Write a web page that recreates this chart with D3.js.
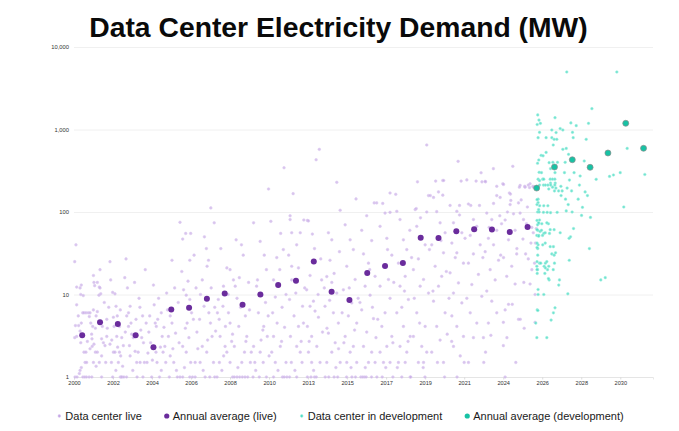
<!DOCTYPE html>
<html><head><meta charset="utf-8">
<script src="https://cdn.jsdelivr.net/npm/d3@7"></script>
<style>body{margin:0;background:#fff;} svg{display:block;font-family:"Liberation Sans",Arial,sans-serif;}</style>
</head><body><svg id="c" width="679" height="431"></svg>
<script>
const title = "Data Center Electricity Demand (MW)";
const yTickValues = [1, 10, 100, 1000, 10000];
const xDomain = [2000, 2032.5];
const xTickStepDays = 800;
const xTickCount = 15;
const legendLabels = ["Data center live", "Annual average (live)", "Data center in development", "Annual average (development)"];

const liveAvgYears = d3.range(2000, 2026);
const liveAvgValues = [3.2, 4.6, 4.4, 3.2, 2.3, 6.6, 6.9, 8.9, 10.3, 7.5, 10.0, 13.0, 14.7, 25.2, 10.8, 8.6, 18.2, 22.1, 24.1, 48.9, 48.4, 58.3, 61.7, 61.2, 57.3, 65.8];
const devAvgYears = d3.range(2026, 2033);
const devAvgValues = [195, 351, 430, 348, 519, 1189, 592];

const livePoints = [
[2000.11,40],[2000.04,25],[2000.41,13],[2000.34,12],[2000.15,12.3],[2000.38,10],[2000.52,9.7],[2000.15,7.5],[2000.49,6],[2000.56,6],[2000.67,6],[2000.24,5.5],[2000.41,4.5],[2000.08,4.2],[2000.26,4.2],[2000.34,3.6],[2000.04,3],[2000.15,3.1],[2000.38,2.6],[2000.56,2],[2000.67,2],[2000.62,1.5],[2000.41,1.3],[2000.34,1.2],[2000.06,1],[2000.17,1],[2000.5,1],[2000.6,1],[2000.7,1],[2000.85,1],[2000.8,6],[2000.86,5.4],[2000.9,6],[2000.94,4.5],[2000.71,1.5],[2000.9,2.2],[2000.3,1.1],[2000.75,2.7],
[2001.09,17],[2001.12,14],[2001.31,14],[2001.16,12.8],[2001.42,12.3],[2001.46,12],[2001.4,9.8],[2001.5,10.2],[2001.09,6.5],[2001.31,6.2],[2001.24,5.5],[2001.05,4.1],[2001.2,3.9],[2001.59,4.1],[2000.99,3.3],[2001.01,2.9],[2001.55,2.9],[2001.65,2.6],[2001.12,2.5],[2001.02,2.35],[2001.2,2],[2001.31,2],[2001.55,1.8],[2001.09,1.5],[2001.42,1.5],[2001.24,1.35],[2001.0,1],[2001.55,1],[2001.84,5],[2001.87,3.9],[2001.84,3.1],[2001.74,2.4],[2001.7,8],[2001.95,7],[2001.78,1.5],[2001.46,20],
[2002.02,25],[2002.06,15],[2002.17,10.6],[2002.3,10.2],[2002.36,7.2],[2002.21,5.3],[2002.43,5.5],[2002.25,4.1],[2002.55,4.1],[2002.4,3.1],[2002.68,3],[2002.12,2.8],[2002.02,2.5],[2002.21,2],[2002.3,2],[2002.55,2],[2002.62,1.8],[2002.49,1.5],[2002.73,1.35],[2002.92,27],[2002.96,5.5],[2002.85,16],[2002.17,1],[2002.6,1],[2002.65,1],[2002.7,1],[2002.8,1],[2002.95,1],[2002.77,2.4],[2002.1,1.5],[2002.45,2.3],[2002.88,3.5],[2002.6,6.5],[2002.35,1.2],
[2003.06,6],[2003.15,7.2],[2003.06,4.1],[2003.24,3.3],[2003.33,3],[2003.11,2.4],[2003.43,2.05],[2003.52,1.5],[2003.71,1.5],[2003.54,1],[2003.87,1],[2003.2,4.5],[2003.48,5],[2003.6,2],[2003.75,3.7],[2003.3,1.2],[2003.9,2.6],[2003.65,9],[2003.85,5.5],[2003.0,12],[2003.4,14],[2003.8,3],[2003.95,1.5],[2003.15,1.8],[2003.7,7],
[2004.0,20],[2004.46,13],[2004.5,7.5],[2004.56,4.5],[2004.7,5],[2004.62,4.1],[2004.3,2.6],[2004.15,1.95],[2004.4,1.6],[2004.66,1.5],[2004.1,1.5],[2004.36,1],[2004.8,1],[2004.85,2.3],[2004.95,3.1],[2004.2,3.5],[2004.9,1.2],[2004.75,9],[2004.25,5.5],[2004.6,2],[2004.05,4.5],[2004.9,6],
[2005.2,10.4],[2005.5,26],[2005.95,75],[2005.3,3.1],[2005.1,2.35],[2005.0,2],[2005.15,1.5],[2005.4,1.8],[2005.6,1.5],[2005.95,1],[2005.55,2.2],[2005.7,3.4],[2005.5,4.5],[2005.4,5.5],[2005.8,1],[2005.85,8],[2005.25,6.5],[2005.65,12],[2005.75,1.2],[2005.05,4],[2005.9,2.6],[2005.35,1],
[2006.1,47],[2006.27,55],[2006.55,55],[2006.74,30],[2006.5,26],[2006.05,19],[2006.4,14.5],[2006.15,11.4],[2006.3,9.8],[2006.5,8.7],[2006.6,6],[2006.7,5],[2006.25,3.9],[2006.45,3],[2006.1,2.35],[2006.3,2],[2006.55,1.5],[2006.8,1.5],[2006.1,1],[2006.5,1],[2006.65,1],[2006.8,1],[2006.9,3.5],[2006.85,12],[2006.2,1.3],[2006.95,2.2],[2006.35,4.5],
[2007.32,50],[2007.43,36],[2007.47,22],[2007.68,112],[2007.87,74],[2007.55,26],[2007.2,15],[2007.1,10],[2007.3,7.2],[2007.57,6],[2007.66,4.5],[2007.75,3.1],[2007.2,2.35],[2007.45,2],[2007.83,1.5],[2007.08,1.5],[2007.36,1],[2007.62,1],[2007.9,1],[2007.95,3.6],[2007.05,5],[2007.7,12],[2007.25,1.2],[2007.5,2.8],[2007.9,7],
[2008.24,36],[2008.58,21],[2008.76,20],[2008.39,12.6],[2008.1,8.7],[2008.05,6],[2008.36,7.2],[2008.67,6],[2008.76,4.5],[2008.2,3.1],[2008.48,2.35],[2008.58,2],[2008.16,1.5],[2008.76,1.5],[2008.03,1],[2008.9,1],[2008.95,15],[2008.3,1.2],[2008.85,2.7],[2008.5,4.1],[2008.65,10],[2008.4,1.8],[2008.15,5],[2008.9,3.3],
[2009.1,46],[2009.4,40],[2009.28,16],[2009.05,12.6],[2009.15,9],[2009.35,7],[2009.62,5.5],[2009.25,4.1],[2009.7,3.1],[2009.0,2.35],[2009.57,2],[2009.42,1.5],[2009.9,1.5],[2009.0,1],[2009.15,1],[2009.3,1],[2009.45,1],[2009.6,1],[2009.75,1],[2009.5,30],[2009.8,14],[2009.65,2.7],[2009.2,1.3],[2009.85,6.5],[2009.95,2],
[2010.92,190],[2010.08,74],[2010.45,44],[2010.68,30],[2010.8,20],[2010.25,12.6],[2010.55,9.8],[2010.35,6],[2010.65,4.1],[2010.85,3.1],[2010.08,2.35],[2010.45,2],[2010.15,1.5],[2010.62,1.5],[2010.05,1],[2010.4,1],[2010.8,1],[2010.3,15],[2010.5,2.8],[2010.9,5.5],[2010.2,1.2],[2010.75,8],[2010.95,1.8],[2010.6,3.7],
[2011.05,77],[2011.38,28],[2011.55,20],[2011.79,344],[2011.2,15],[2011.48,12.6],[2011.3,9.3],[2011.68,7],[2011.4,4.5],[2011.82,4],[2011.2,3.1],[2011.58,2.35],[2011.1,2],[2011.9,1.5],[2011.3,1.5],[2011.2,1],[2011.7,1],[2011.8,1],[2011.95,1],[2011.75,35],[2011.6,55],[2011.15,6],[2011.45,1.2],[2011.65,2.7],[2011.9,10],
[2012.3,167],[2012.13,90],[2012.13,81],[2012.22,56],[2012.5,40],[2012.7,56],[2012.22,22],[2012.6,21],[2012.22,15],[2012.45,10.4],[2012.1,8.7],[2012.83,7.2],[2012.35,5.5],[2012.6,4.1],[2012.15,3.1],[2012.5,2.35],[2012.7,2],[2012.2,1.5],[2012.8,1.5],[2012.1,1],[2012.5,1],[2012.9,80],[2012.95,12],[2012.4,1.2],[2012.75,2.7],[2012.05,30],[2012.88,4.5],
[2013.1,79],[2013.16,78],[2013.38,54],[2013.59,430],[2013.77,575],[2013.5,36],[2013.25,17],[2013.06,11.4],[2013.44,8.3],[2013.25,7.2],[2013.53,6.3],[2013.72,5.3],[2013.1,4.1],[2013.34,3.1],[2013.63,2.35],[2013.16,2],[2013.81,1.5],[2013.34,1.5],[2013.1,1],[2013.3,1],[2013.5,1],[2013.6,1],[2013.9,15],[2013.85,27],[2013.7,10],[2013.2,2.7],[2013.95,3.5],[2013.45,1.2],
[2014.75,229],[2014.94,105],[2014.28,56],[2014.47,46],[2014.37,26],[2014.19,16.5],[2014.47,14],[2014.75,10.4],[2014.09,7.2],[2014.56,6],[2014.84,4.5],[2014.28,3.4],[2014.66,2.6],[2014.47,2],[2014.19,1.5],[2014.94,1.5],[2014.1,1],[2014.3,1],[2014.6,1],[2014.8,1],[2014.6,18],[2014.9,33],[2014.2,3.9],[2014.7,1.3],[2014.35,8.5],[2014.05,12],[2014.85,2.2],
[2015.83,144],[2015.22,70],[2015.5,46],[2015.68,35],[2015.31,22],[2015.78,15.2],[2015.12,11.4],[2015.59,7.9],[2015.4,5.5],[2015.87,4.5],[2015.22,3.1],[2015.68,2.35],[2015.5,2],[2015.31,1.5],[2015.87,1.5],[2015.3,1],[2015.6,1],[2015.8,1],[2015.45,12],[2015.95,9],[2015.15,2.6],[2015.55,1.3],[2015.75,3.7],[2015.05,6],
[2016.85,129],[2016.99,129],[2016.43,90],[2016.15,60],[2016.71,45],[2016.25,31],[2016.53,24],[2016.9,16.6],[2016.34,12.6],[2016.62,9.8],[2016.15,6.5],[2016.81,5.1],[2016.43,3.5],[2016.25,2.35],[2016.71,2],[2016.53,1.5],[2016.9,1.5],[2016.1,1],[2016.2,1],[2016.3,1],[2016.4,1],[2016.7,1],[2016.6,20],[2016.05,8],[2016.95,3],[2016.35,1.3],[2016.75,7],
[2017.74,170],[2017.33,127],[2017.46,97],[2017.74,99],[2017.18,67],[2017.56,48],[2017.84,30],[2017.37,22],[2017.65,15.2],[2017.18,12.6],[2017.74,9],[2017.46,6],[2017.28,4.1],[2017.84,3.1],[2017.56,2.35],[2017.18,2],[2017.37,1.5],[2017.74,1.5],[2017.0,1],[2017.3,1],[2017.9,1],[2017.6,35],[2017.95,14],[2017.05,5],[2017.5,1.3],[2017.9,2.6],
[2018.06,164],[2018.12,102],[2018.3,81],[2018.49,46],[2018.68,35],[2018.21,24],[2018.59,16.6],[2018.3,12.6],[2018.77,8.7],[2018.12,6],[2018.49,4.1],[2018.87,3.1],[2018.3,2.35],[2018.68,2],[2018.21,1.5],[2018.59,1.5],[2018.4,1],[2018.87,1],[2018.9,1],[2018.85,60],[2018.95,28],[2018.4,7],[2018.15,1.3],[2018.75,2.7],[2018.55,11],
[2019.28,232],[2019.8,649],[2019.15,107],[2019.21,110],[2019.8,100],[2019.9,158],[2019.24,67],[2019.52,50],[2019.71,40],[2019.33,27],[2019.05,20],[2019.62,15.2],[2019.43,12.6],[2019.9,10.4],[2019.24,6],[2019.71,4.1],[2019.05,3.1],[2019.52,2.35],[2019.8,2],[2019.33,1.5],[2019.62,1.5],[2019.7,1],[2019.45,85],[2019.95,35],[2019.1,9],[2019.6,1.3],[2019.4,4.5],
[2020.3,237],[2020.7,241],[2020.75,241],[2020.0,158],[2020.46,175],[2020.7,160],[2020.18,150],[2020.36,101],[2020.55,74],[2020.83,56],[2020.08,40],[2020.74,32],[2020.27,22],[2020.64,16.6],[2020.46,12.6],[2020.18,8.3],[2020.83,6],[2020.36,4.1],[2020.55,2.8],[2020.08,2],[2020.74,1.5],[2020.8,1],[2020.9,19],[2020.6,45],[2020.15,11],[2020.95,3.3],[2020.4,1.5],
[2021.56,411],[2021.73,237],[2021.11,120],[2021.64,120],[2021.49,102],[2021.64,92],[2021.3,74],[2021.77,56],[2021.21,42],[2021.49,32],[2021.86,24],[2021.11,18.3],[2021.58,13.8],[2021.3,10.4],[2021.77,7.9],[2021.21,5.5],[2021.49,4.1],[2021.86,3.1],[2021.3,2.35],[2021.68,1.8],[2021.5,1],[2021.95,48],[2021.4,28],[2021.05,9],[2021.9,1.5],[2021.2,2.7],
[2022.05,245],[2022.57,237],[2022.85,299],[2022.9,232],[2022.14,125],[2022.27,120],[2022.76,120],[2022.42,81],[2022.61,67],[2022.24,52],[2022.8,40],[2022.42,31],[2022.14,24],[2022.7,17.5],[2022.33,13.2],[2022.89,9.5],[2022.24,6],[2022.61,4.5],[2022.42,3],[2022.14,1.5],[2022.98,3],[2022.55,60],[2022.95,28],[2022.05,9],
[2023.1,232],[2023.54,335],[2023.08,235],[2023.55,127],[2023.73,158],[2023.92,150],[2023.73,205],[2023.17,97],[2023.45,81],[2023.73,60],[2023.26,48],[2023.55,40],[2023.08,33],[2023.83,26],[2023.36,20],[2023.64,15],[2023.17,11],[2023.45,8.3],[2023.73,6],[2023.26,4.5],[2023.4,3.2],[2023.1,2],[2023.0,1.5],[2023.9,90],[2023.3,65],[2023.95,30],
[2024.07,220],[2024.63,358],[2024.11,216],[2024.44,170],[2024.52,138],[2024.48,123],[2024.95,129],[2024.33,100],[2024.67,95],[2024.5,165],[2024.2,80],[2024.76,60],[2024.39,46],[2024.86,36],[2024.11,28],[2024.57,22],[2024.29,16.6],[2024.76,13.4],[2024.39,7.6],[2024.6,7.6],[2024.2,6.5],[2024.95,5],[2024.1,4.6],[2024.3,3],[2024.1,2.4],[2024.2,1],[2024.8,1.5],[2024.0,72],[2024.45,55],[2024.85,31],
[2025.04,210],[2025.3,205],[2025.6,220],[2025.5,212],[2025.76,205],[2025.0,200],[2025.32,200],[2025.57,198],[2025.79,200],[2025.04,97],[2025.23,81],[2025.5,67],[2025.78,56],[2025.2,47],[2025.65,42],[2025.9,42],[2025.35,31],[2025.5,27],[2025.7,20],[2025.85,24],[2025.25,14],[2025.6,13.4],[2025.88,10],[2025.05,5],[2025.88,4.6],[2025.27,3.9],[2025.4,72],[2025.7,65],[2025.95,63],[2025.1,140],[2025.45,115]
];

const devPoints = [
[2026.03,1500],[2026.18,1188],[2026.13,924],[2026.05,795],[2026.5,795],[2026.82,795],[2026.95,760],[2027.1,760],[2026.82,986],[2027.0,1390],[2027.89,1200],[2028.19,1113],[2028.88,1188],[2027.29,1025],[2027.44,986],[2027.06,917],[2027.98,924],[2028.02,795],[2028.75,760],[2026.9,649],[2026.5,528],[2027.44,575],[2027.63,590],[2027.76,500],[2026.22,486],[2026.33,480],[2026.09,427],[2026.67,396],[2026.88,400],[2027.14,400],[2027.57,400],[2028.64,415],[2026.02,390],[2026.75,335],[2026.11,303],[2026.24,300],[2027.0,300],[2027.53,300],[2028.07,300],[2029.31,249],[2030.28,281],[2030.06,270],[2030.66,300],[2032.04,285],[2028.41,273],[2027.81,244],[2026.73,250],[2026.86,250],[2026.99,250],[2026.05,250],[2026.13,240],[2026.31,250],[2026.37,250],[2026.75,224],[2027.01,224],[2026.13,212],[2026.35,212],[2026.46,212],[2026.6,212],[2026.76,212],[2026.99,212],[2027.33,205],[2027.68,195],[2027.93,180],[2028.37,212],[2027.05,195],[2026.65,190],[2026.86,200],[2026.97,180],[2027.2,180],[2027.4,180],[2028.69,175],[2028.82,158],[2027.34,158],[2027.59,143],[2028.3,143],[2026.05,143],[2026.05,130],[2026.14,119],[2026.37,119],[2026.6,119],[2027.74,123],[2028.54,114],[2030.86,115],[2026.02,100],[2026.11,100],[2026.35,99],[2026.56,99],[2026.75,98],[2027.12,99],[2027.63,103],[2027.96,100],[2028.49,91],[2028.99,86],[2026.13,80],[2026.09,73],[2026.02,70],[2026.26,72],[2026.63,72],[2028.04,63],[2026.95,61],[2026.73,61],[2026.03,60],[2026.16,58],[2026.37,55],[2026.69,55],[2027.29,56],[2025.98,52],[2026.09,52],[2026.3,52],[2027.87,50],[2027.79,48],[2026.05,40],[2026.31,40],[2026.45,42],[2026.73,38],[2026.91,38],[2027.03,32],[2026.82,31],[2026.95,30],[2026.03,36],[2026.03,30],[2028.93,36],[2026.13,24],[2026.2,24],[2026.46,24],[2026.97,24],[2027.8,26],[2025.98,22],[2026.39,22],[2026.58,20],[2026.9,20],[2026.02,20],[2026.65,22],[2026.43,18],[2026.0,18],[2027.25,15],[2026.67,15],[2029.57,15],[2029.82,16],[2027.21,13],[2027.72,10.2],[2026.05,11.5],[2026.05,10],[2026.37,10],[2027.0,6.9],[2026.91,6],[2026.78,4.9],[2026.0,6.5],[2025.92,4.5],[2025.98,3],[2026.54,3],
[2025.99,141],[2025.99,123],[2026.08,107],[2025.99,79],[2026.08,74],[2025.99,61],[2026.08,51],[2025.99,42],[2025.99,37],[2025.99,25],[2025.99,20],[2026.04,6.4],[2026.54,74],[2026.24,60],[2026.46,21],[2026.63,15.6],[2026.54,25],[2026.45,56],
[2027.66,4980],[2030.47,4980],[2029.07,1790],[2031.05,590],[2026.1,1300],[2026.0,1150]
];

const liveAvgOffset = 0.46, devAvgOffset = -0.03;
const colors = {live: "#c3a5e4", liveStroke: "#dccbf1", liveAvg: "#6a2c9c", dev: "#4fdcc4", devStroke: "#a9f0e3", devAvg: "#17c2a4"};

const svg = d3.select("#c");
const x = d3.scaleLinear().domain(xDomain).range([74, 653]);
const y = d3.scaleLog().domain([1, 10000]).range([377, 47]);

svg.append("text").attr("x", 338.5).attr("y", 37).attr("text-anchor", "middle")
  .attr("font-size", 28.3).attr("font-weight", "bold").attr("fill", "#0a0a0a").text(title);

// y axis with gridlines
const yAxis = svg.append("g").attr("transform", "translate(74,0)")
  .call(d3.axisLeft(y).tickValues(yTickValues).tickFormat(d3.format(",")).tickSize(-(653 - 74)).tickPadding(5));
yAxis.select(".domain").remove();
yAxis.selectAll(".tick line").attr("stroke", "#ececec").attr("stroke-width", 0.8);
yAxis.selectAll(".tick text").attr("font-size", 5.8).attr("fill", "#333").attr("font-family", "Liberation Sans, Arial, sans-serif");

// x axis
const xTicks = d3.range(xTickCount).map(i => xDomain[0] + i * xTickStepDays / 365.25);
const xAxis = svg.append("g").attr("transform", "translate(0,377)")
  .call(d3.axisBottom(x).tickValues(xTicks).tickFormat(d => String(Math.floor(d))).tickSize(2.5).tickPadding(2));
xAxis.select(".domain").attr("stroke", "#e2e2e2").attr("stroke-width", 0.8);
xAxis.selectAll(".tick line").attr("stroke", "#dcdcdc");
xAxis.selectAll(".tick text").attr("font-size", 5.6).attr("fill", "#333").attr("font-family", "Liberation Sans, Arial, sans-serif");

// scatter points
svg.append("g").selectAll("circle").data(livePoints).join("circle")
  .attr("cx", d => x(d[0])).attr("cy", d => y(d[1])).attr("r", 1.35)
  .attr("fill", colors.live).attr("fill-opacity", 0.65)
  .attr("stroke", colors.liveStroke).attr("stroke-width", 0.5);
svg.append("g").selectAll("circle").data(devPoints).join("circle")
  .attr("cx", d => x(d[0])).attr("cy", d => y(d[1])).attr("r", 1.35)
  .attr("fill", colors.dev).attr("fill-opacity", 0.8)
  .attr("stroke", colors.devStroke).attr("stroke-width", 0.5);

// averages
svg.append("g").selectAll("circle").data(liveAvgYears).join("circle")
  .attr("cx", d => x(d + liveAvgOffset)).attr("cy", (d, i) => y(liveAvgValues[i])).attr("r", 3)
  .attr("fill", colors.liveAvg);
svg.append("g").selectAll("circle").data(devAvgYears).join("circle")
  .attr("cx", d => x(d + devAvgOffset)).attr("cy", (d, i) => y(devAvgValues[i])).attr("r", 3)
  .attr("fill", colors.devAvg).attr("stroke", "#8c8c8c").attr("stroke-width", 0.7);

// legend
const legend = svg.append("g").attr("transform", "translate(0,416)");
const markerStyles = [
  {r: 1.4, fill: colors.live, stroke: colors.liveStroke},
  {r: 2.6, fill: colors.liveAvg, stroke: "none"},
  {r: 1.4, fill: colors.dev, stroke: colors.devStroke},
  {r: 2.6, fill: colors.devAvg, stroke: "none"}
];
const items = legend.selectAll("g").data(legendLabels).join("g");
items.append("circle").attr("r", (d, i) => markerStyles[i].r).attr("fill", (d, i) => markerStyles[i].fill)
  .attr("stroke", (d, i) => markerStyles[i].stroke).attr("stroke-width", 0.5);
items.append("text").attr("x", 6).attr("dy", "0.35em").attr("font-size", 11).attr("fill", "#1a1a1a").text(d => d);
const widths = [];
items.each(function () { widths.push(6 + d3.select(this).select("text").node().getComputedTextLength()); });
const gap = 25;
const total = d3.sum(widths) + gap * (widths.length - 1);
let cursor = 341.5 - total / 2;
items.attr("transform", (d, i) => { const t = `translate(${cursor},0)`; cursor += widths[i] + gap; return t; });
</script></body></html>
